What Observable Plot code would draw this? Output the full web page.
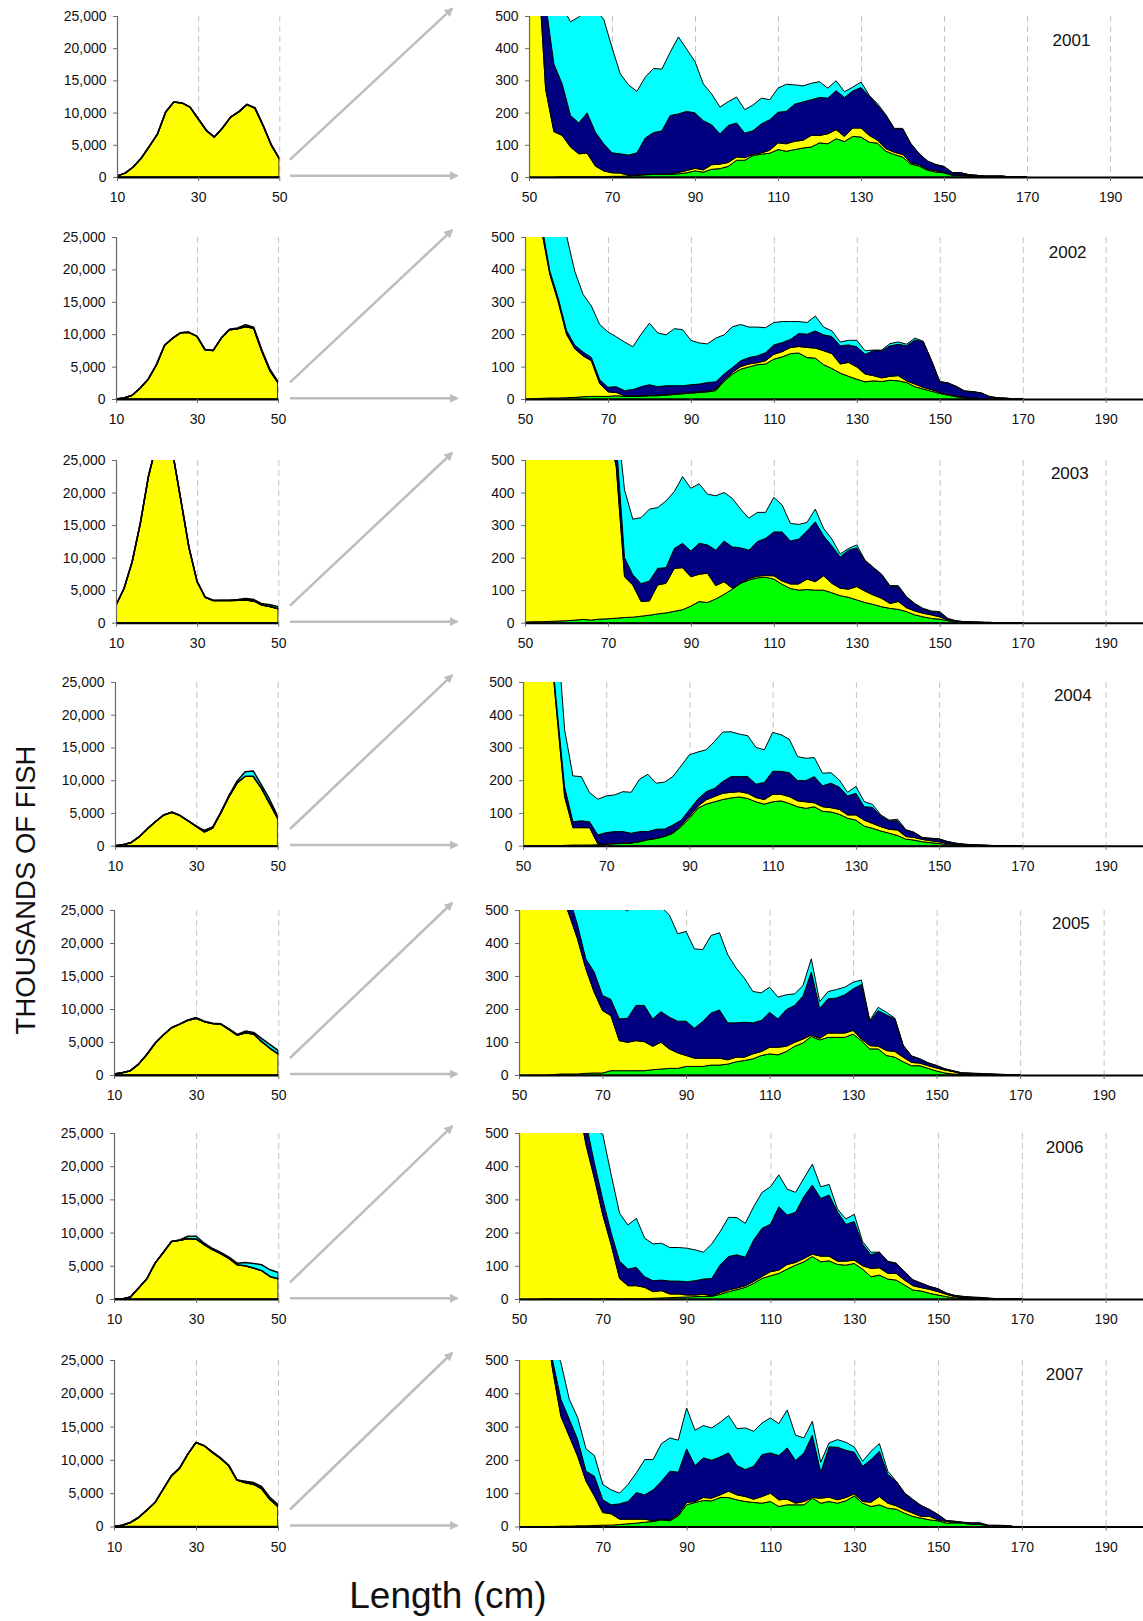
<!DOCTYPE html>
<html>
<head>
<meta charset="utf-8">
<script src="https://cdn.jsdelivr.net/npm/d3@7"></script>
<script src="https://cdn.jsdelivr.net/npm/@observablehq/plot@0.6"></script>
<style>
html, body { margin: 0; padding: 0; background: #fff; }
#page { position: relative; width: 1143px; height: 1621px; overflow: hidden; background: #fff; font-family: "Liberation Sans", Arial, sans-serif; }
#page svg.panel { position: absolute; }
</style>
</head>
<body>
<div id="page"></div>
<script>
// ---------------- DATA ----------------
const years = [2001, 2002, 2003, 2004, 2005, 2006, 2007];
const layers = ["green band", "yellow band", "navy band", "cyan band"];   // stack order, bottom to top
const layerColors = ["#00ff00", "#ffff00", "#000080", "#00ffff"];

const lengthSmall = [10,12,14,16,18,20,22,24,26,28,30,32,34,36,38,40,42,44,46,48,50];
const lengthLarge = [50,52,54,56,58,60,62,64,66,68,70,72,74,76,78,80,82,84,86,88,90,92,94,96,98,100,102,104,106,108,110,112,114,116,118,120,122,124,126,128,130,132,134,136,138,140,142,144,146,148,150,152,154,156,158,160,162,164,166,168,170];

const smallXTicks = [10, 30, 50];
const smallYTicks = [0, 5000, 10000, 15000, 20000, 25000];
const smallGrid = [30, 50];
const largeXTicks = [50, 70, 90, 110, 130, 150, 170, 190];
const largeYTicks = [0, 100, 200, 300, 400, 500];
const largeGrid = [70, 90, 110, 130, 150, 170, 190];

// Left panels (10-50 cm): cumulative top of yellow layer and of the whole stack (thousands of fish)
const small2001Yellow = [150,600,1550,2950,4800,6700,10100,11650,11500,10850,9050,7250,6200,7600,9300,10100,11230,10700,8000,5000,2850];
const small2001Total  = [150,600,1550,2950,4800,6700,10100,11650,11500,10850,9050,7250,6200,7600,9300,10150,11300,10780,8050,5050,2870];
const small2002Yellow = [0,150,570,1700,3100,5300,8300,9400,10240,10290,9670,7600,7500,9400,10700,10850,11200,10900,7400,4400,2550];
const small2002Total  = [0,150,570,1700,3100,5300,8300,9400,10240,10290,9670,7600,7500,9400,10750,10950,11470,11060,7600,4600,2700];
const small2003Yellow = [2700,5300,9400,15300,22500,27500,29000,26000,18800,11500,6300,3900,3400,3400,3400,3450,3500,3350,2700,2500,2150];
const small2003Total  = [2700,5300,9400,15300,22500,27500,29000,26000,18800,11500,6300,3900,3400,3450,3450,3550,3700,3550,2900,2750,2450];
const small2004Yellow = [0,150,500,1400,2600,3700,4700,5100,4600,3800,2950,2100,2700,5000,7500,9570,10600,10600,8800,6500,4200];
const small2004Total  = [0,150,500,1400,2600,3700,4700,5100,4600,3800,3000,2350,2850,5100,7650,9850,11300,11400,9300,7100,4500];
const small2005Yellow = [150,350,650,1650,3100,4800,6050,7150,7700,8300,8600,8080,7800,7700,6900,6050,6400,6200,5050,4050,3200];
const small2005Total  = [150,350,650,1650,3100,4800,6050,7150,7700,8350,8700,8150,7850,7750,7000,6150,6650,6450,5500,4600,3700];
const small2006Yellow = [0,0,300,1650,3050,5400,7000,8650,8850,9100,9050,8200,7430,6830,6120,5170,5020,4670,4270,3400,3060];
const small2006Total  = [0,0,300,1650,3050,5400,7000,8650,8900,9450,9450,8400,7600,7000,6300,5400,5500,5350,5150,4400,4000];
const small2007Yellow = [0,200,600,1350,2450,3600,5600,7600,8770,10870,12620,12120,11120,10220,9120,6970,6600,6350,5700,4100,3000];
const small2007Total  = [0,200,600,1350,2450,3600,5600,7600,8770,10870,12620,12150,11200,10300,9200,7000,6800,6600,6000,4400,3300];

// Right panels (50-170 cm): cumulative top of each stacked layer (thousands of fish)
const big2001Green  = [0,0,0,0,1,1,1,1,1,1,2,2,3,5,7,8,8,8,10,13,19,15,24,26,33,52,52,67,71,74,85,80,85,90,93,106,103,119,110,126,124,108,105,80,70,62,40,34,21,15,13,5,4,3,2,1,1,0,0,0,0];
const big2001Yellow = [2850,700,273,141,129,93,72,74,34,19,13,12,5,6,8,9,9,10,14,20,27,22,38,40,45,62,60,70,75,83,106,103,111,114,129,129,134,147,126,152,152,129,114,88,77,70,44,38,24,19,15,6,5,4,2,1,1,0,0,0,0];
const big2001Navy   = [2860,1000,540,351,289,191,168,199,139,103,75,72,68,75,121,138,143,191,196,204,199,175,162,134,160,168,136,144,165,178,201,204,226,233,240,247,245,268,247,267,278,251,222,191,150,150,103,72,49,38,32,13,13,7,5,3,3,3,0,0,0];
const big2001Cyan   = [2870,1100,800,600,530,482,497,520,520,490,402,320,286,266,310,337,335,387,435,397,358,289,258,217,234,248,209,224,245,240,276,288,286,283,291,296,276,299,265,279,295,253,227,193,151,151,104,73,50,39,33,14,13,7,5,3,3,3,0,0,0];

const big2002Green  = [0,1,2,3,3,4,5,7,8,8,8,10,8,8,8,10,10,12,14,16,18,20,22,26,54,77,92,99,106,108,123,130,140,142,128,126,106,94,80,70,61,53,56,54,58,56,51,38,31,24,17,12,7,3,2,1,0,0,0,0,0];
const big2002Yellow = [2550,900,520,384,300,200,155,133,118,48,22,20,10,10,10,12,12,14,16,18,20,22,24,30,58,82,100,108,112,118,138,146,159,162,159,157,149,140,108,113,99,77,72,65,70,72,56,46,36,29,20,14,9,5,2,1,0,0,0,0,0];
const big2002Navy   = [2600,950,540,395,312,212,166,145,128,60,36,38,26,29,38,44,38,41,41,41,44,46,51,53,77,97,118,128,133,143,167,174,184,202,200,210,198,193,164,167,161,138,149,149,164,169,164,182,177,118,53,49,38,24,22,18,7,3,2,0,0];
const big2002Cyan   = [2700,1300,900,700,560,505,394,323,287,230,207,192,176,161,200,234,204,198,217,214,181,173,170,188,198,223,230,222,222,220,236,239,239,239,236,256,222,210,176,181,181,149,151,151,171,176,169,188,178,119,54,50,39,25,23,19,8,4,3,0,0];

const big2003Green  = [2,3,3,4,5,6,8,10,8,11,12,14,16,17,20,23,27,30,35,40,51,65,62,73,87,103,121,131,138,140,134,118,105,100,102,100,100,92,83,78,70,62,56,49,44,41,34,24,18,13,11,6,3,2,1,1,0,0,0,0,0];
const big2003Yellow = [2150,1800,1500,1200,1000,900,800,700,650,600,600,480,141,116,65,67,116,121,167,169,141,149,152,114,126,106,122,135,143,145,144,128,119,119,134,126,144,121,106,103,111,97,85,75,59,65,46,36,29,24,18,8,4,2,1,1,0,0,0,0,0];
const big2003Navy   = [2200,1900,1600,1300,1100,1000,900,800,750,700,650,560,200,147,120,128,167,169,228,244,220,244,239,223,251,233,230,223,249,259,279,279,251,257,282,310,267,236,202,223,230,190,169,147,111,111,78,57,42,34,31,11,5,3,2,1,1,0,0,0,0];
const big2003Cyan   = [2450,2100,1800,1500,1300,1200,1100,1000,900,800,720,650,408,318,323,349,354,374,403,449,413,427,395,390,400,382,349,321,339,339,385,362,305,302,308,349,290,257,211,228,239,192,170,149,114,114,80,59,44,36,34,13,6,3,2,1,1,0,0,0,0];

const big2004Green  = [0,0,0,0,0,1,2,2,2,3,4,6,7,8,12,18,22,28,38,58,84,114,127,134,141,146,149,144,134,127,134,137,129,119,114,119,105,103,96,84,78,60,53,45,38,31,20,17,12,9,7,3,2,1,0,0,0,0,0,0,0];
const big2004Yellow = [4200,2500,1200,700,420,150,55,55,55,5,5,7,8,9,13,19,23,29,40,62,90,120,140,150,160,163,165,160,147,141,157,157,150,137,134,131,119,116,111,94,94,78,68,58,50,48,28,25,19,15,12,6,4,2,1,0,0,0,0,0,0];
const big2004Navy   = [4300,2600,1300,720,440,180,73,76,73,33,40,43,43,38,43,43,50,51,63,78,110,142,165,175,196,211,211,211,188,193,227,227,223,199,199,211,183,191,179,152,160,119,117,91,76,76,48,40,24,22,20,12,7,4,3,2,1,0,0,0,0];
const big2004Cyan   = [4500,2800,1500,1000,700,354,213,211,162,142,152,155,165,163,203,218,191,194,211,244,278,286,293,318,347,348,341,336,300,293,346,339,325,272,267,269,221,223,201,163,181,135,126,94,78,81,49,41,25,23,21,13,8,5,3,2,1,0,0,0,0];

const big2005Green  = [0,0,0,0,1,3,3,3,5,6,6,13,13,13,13,13,16,18,20,20,26,26,26,30,30,33,40,44,49,59,64,61,71,87,97,117,106,114,114,114,124,104,79,79,59,54,40,28,28,20,12,6,3,1,0,0,0,0,0,0,0];
const big2005Yellow = [3200,2000,1200,900,700,560,486,413,322,251,195,180,104,99,104,101,87,99,79,67,59,51,51,51,51,46,54,54,64,71,84,84,87,99,109,121,111,127,127,127,135,109,89,87,74,71,54,38,36,28,21,15,10,3,2,1,0,0,0,0,0];
const big2005Navy   = [3300,2100,1300,1000,800,650,540,455,352,312,241,229,170,172,211,211,170,192,175,163,163,142,162,188,197,158,158,160,158,165,190,170,198,211,239,312,202,231,233,243,261,274,162,195,182,170,89,57,48,36,28,18,12,6,5,4,3,2,1,0,0];
const big2005Cyan   = [3700,2500,1800,1400,1100,900,800,700,650,620,600,580,510,497,520,530,540,510,485,428,435,382,380,423,431,364,324,293,253,249,266,236,243,246,271,352,222,253,259,266,281,288,165,205,190,172,90,58,49,37,29,19,13,7,6,5,4,3,2,0,0];

const big2006Green  = [0,0,0,1,1,1,1,1,1,1,1,1,1,1,1,1,2,3,4,5,6,7,8,8,14,22,28,35,47,62,70,77,90,102,112,128,112,115,104,102,107,90,67,72,60,57,42,27,24,17,12,7,3,1,0,0,0,0,0,0,0];
const big2006Yellow = [3060,2200,1600,1200,1000,800,700,600,464,363,253,163,62,40,40,35,22,25,15,15,12,12,14,10,19,27,33,40,53,68,82,87,104,110,122,135,129,129,114,114,117,100,92,94,77,77,57,40,34,29,22,14,7,3,2,1,0,0,0,0,0];
const big2006Navy   = [3200,2300,1700,1300,1100,900,800,650,530,409,299,199,114,90,95,67,55,57,54,54,52,55,60,62,103,128,133,126,178,213,225,278,253,261,309,343,303,313,263,225,233,165,133,141,112,107,82,57,47,37,30,17,10,7,5,4,2,0,0,0,0];
const big2006Cyan   = [4000,3000,2200,1700,1300,1000,850,700,600,515,495,374,258,223,243,183,166,168,155,155,153,148,141,166,203,246,245,228,278,321,338,374,331,321,364,406,338,345,271,241,255,173,141,141,114,108,83,58,48,38,31,18,11,8,6,5,3,1,0,0,0];

const big2007Green  = [0,0,0,0,0,1,1,2,2,3,4,4,6,8,10,13,15,20,17,32,65,72,78,77,87,87,80,75,72,70,75,60,65,65,65,85,70,75,70,77,92,70,60,65,55,52,40,30,25,20,17,10,11,10,6,6,2,2,1,0,0];
const big2007Yellow = [3000,1800,1000,650,472,331,271,211,136,91,42,38,22,22,22,22,17,22,20,36,72,75,87,85,95,106,95,90,82,90,100,80,82,70,75,87,85,88,80,87,98,75,73,90,70,62,50,40,30,30,20,15,12,12,8,8,3,3,2,0,0];
const big2007Navy   = [3100,1900,1100,700,500,382,322,261,166,151,80,65,68,75,102,95,110,136,166,163,233,183,206,199,209,221,183,171,181,216,221,213,236,198,221,274,163,239,238,229,223,181,201,226,156,136,100,80,62,50,35,17,15,12,10,10,3,3,2,0,0];
const big2007Cyan   = [3300,2100,1300,800,560,492,382,327,233,213,126,110,100,126,161,201,201,249,266,259,356,289,303,296,313,333,294,296,286,311,326,309,350,274,266,316,193,251,261,253,239,196,226,249,166,136,101,81,63,51,36,18,16,13,11,11,4,4,3,0,0];

// ---------------- LAYOUT (page pixels) ----------------
const layout = [
  {yTop: 15.7,   y0: 176.7,  lx0: 117,   lx1: 279.3, rx50: 528.7, rx190: 1109.8, yearX: 1070.7, yearY: 39.3},
  {yTop: 237.3,  y0: 399.3,  lx0: 116.3, lx1: 278.3, rx50: 525.4, rx190: 1106.1, yearX: 1067.6, yearY: 252.2},
  {yTop: 460,    y0: 622.7,  lx0: 116,   lx1: 278.3, rx50: 525.4, rx190: 1106,   yearX: 1069.7, yearY: 473.3},
  {yTop: 682.3,  y0: 846,    lx0: 115,   lx1: 277.7, rx50: 523.4, rx190: 1106,   yearX: 1072.7, yearY: 695.5},
  {yTop: 910,    y0: 1075,   lx0: 114,   lx1: 278.3, rx50: 519.3, rx190: 1104,   yearX: 1070.7, yearY: 922.9},
  {yTop: 1133.3, y0: 1299.3, lx0: 114,   lx1: 278.3, rx50: 519.3, rx190: 1106,   yearX: 1064.5, yearY: 1147.2},
  {yTop: 1360,   y0: 1526.5, lx0: 114,   lx1: 278,   rx50: 519.3, rx190: 1106,   yearX: 1064.5, yearY: 1374.5}
];

// ---------------- BUILD ----------------
const smallTops = {
  2001: [small2001Yellow, small2001Total], 2002: [small2002Yellow, small2002Total],
  2003: [small2003Yellow, small2003Total], 2004: [small2004Yellow, small2004Total],
  2005: [small2005Yellow, small2005Total], 2006: [small2006Yellow, small2006Total],
  2007: [small2007Yellow, small2007Total]
};
const bigTops = {
  2001: [big2001Green, big2001Yellow, big2001Navy, big2001Cyan],
  2002: [big2002Green, big2002Yellow, big2002Navy, big2002Cyan],
  2003: [big2003Green, big2003Yellow, big2003Navy, big2003Cyan],
  2004: [big2004Green, big2004Yellow, big2004Navy, big2004Cyan],
  2005: [big2005Green, big2005Yellow, big2005Navy, big2005Cyan],
  2006: [big2006Green, big2006Yellow, big2006Navy, big2006Cyan],
  2007: [big2007Green, big2007Yellow, big2007Navy, big2007Cyan]
};

// convert cumulative tops into per-layer values for Plot's stack
function rowsFromTops(lengths, tops) {
  const out = [];
  lengths.forEach((x, i) => {
    let prev = 0;
    layers.forEach((layer, k) => {
      const t = tops[k][i];
      out.push({x, layer, value: Math.max(0, t - prev)});
      prev = Math.max(prev, t);
    });
  });
  return out;
}

const page = document.getElementById("page");
const FONT = '"Liberation Sans", Arial, sans-serif';
const M = {l: 64, r: 2, t: 8, b: 36};

function drawPanel(o) {
  const marks = [
    Plot.ruleX(o.grid, {stroke: "#c4c4c4", strokeWidth: 1, strokeDasharray: "6,4"}),
    Plot.areaY(o.rows, Plot.stackY({order: layers}, {
      x: "x", y: "value", z: "layer", fill: "layer",
      stroke: "#000", strokeWidth: o.strokeWidth, strokeLinejoin: "round", clip: true
    })),
    Plot.ruleX([o.xDomain[0]], {stroke: "#6a6a6a", strokeWidth: 1.2}),
    Plot.ruleY([o.yDomain[0]], {stroke: "#000", strokeWidth: 2}),
    Plot.axisY(o.yTicks, {tickSize: 4, tickPadding: 7, tickFormat: o.yFormat, stroke: "#6a6a6a", fill: "#111", label: null}),
    Plot.axisX(o.xTicks, {tickSize: 4, tickPadding: 11, tickFormat: d => String(d), stroke: "#6a6a6a", fill: "#111", label: null})
  ];
  if (o.year) {
    marks.push(Plot.text([o.year], {
      frameAnchor: "top-left", dx: o.yearDx, dy: o.yearDy, text: d => String(d),
      fontSize: 17, fill: "#111", textAnchor: "middle", lineAnchor: "middle"
    }));
  }
  const svg = Plot.plot({
    width: M.l + o.plotW + M.r,
    height: M.t + o.plotH + M.b,
    marginLeft: M.l, marginRight: M.r, marginTop: M.t, marginBottom: M.b,
    x: {domain: o.xDomain},
    y: {domain: o.yDomain},
    color: {type: "ordinal", domain: layers, range: layerColors},
    style: {fontFamily: FONT, fontSize: "14px", background: "transparent", overflow: "visible", color: "#111"},
    marks
  });
  svg.classList.add("panel");
  svg.style.left = (o.left - M.l) + "px";
  svg.style.top = (o.top - M.t) + "px";
  page.appendChild(svg);
}

years.forEach((year, r) => {
  const L = layout[r];
  const plotH = L.y0 - L.yTop;
  const [sy, st] = smallTops[year];
  const smallZero = sy.map(() => 0);
  drawPanel({
    rows: rowsFromTops(lengthSmall, [smallZero, sy, sy, st]),
    xDomain: [10, 50], yDomain: [0, 25000],
    xTicks: smallXTicks, yTicks: smallYTicks, grid: smallGrid,
    yFormat: d3.format(","),
    left: L.lx0, top: L.yTop, plotW: L.lx1 - L.lx0, plotH,
    strokeWidth: 1.5
  });
  drawPanel({
    rows: rowsFromTops(lengthLarge, bigTops[year]),
    xDomain: [50, 200], yDomain: [0, 500],
    xTicks: largeXTicks, yTicks: largeYTicks, grid: largeGrid,
    yFormat: d => String(d),
    left: L.rx50, top: L.yTop, plotW: (L.rx190 - L.rx50) * 150 / 140, plotH,
    strokeWidth: 1,
    year, yearDx: L.yearX - L.rx50, yearDy: L.yearY - L.yTop
  });
});

// ---------------- OVERLAY: connector arrows and axis titles ----------------
const overlay = d3.select(page).append("svg")
  .attr("width", 1143).attr("height", 1621)
  .style("position", "absolute").style("left", "0px").style("top", "0px")
  .style("pointer-events", "none");
overlay.append("defs").append("marker")
  .attr("id", "ah").attr("viewBox", "0 0 10 10").attr("refX", 8).attr("refY", 5)
  .attr("markerWidth", 3.6).attr("markerHeight", 3.6).attr("orient", "auto")
  .append("path").attr("d", "M0,0L10,5L0,10z").attr("fill", "#bdbdbd");

const arrowStartX = 290, arrowEndX = 452, hArrowEndX = 457;
layout.forEach(L => {
  overlay.append("line")
    .attr("x1", arrowStartX).attr("y1", L.y0 - 17)
    .attr("x2", arrowEndX).attr("y2", L.yTop - 7)
    .attr("stroke", "#bdbdbd").attr("stroke-width", 2.5).attr("marker-end", "url(#ah)");
  overlay.append("line")
    .attr("x1", arrowStartX).attr("y1", L.y0 - 1)
    .attr("x2", hArrowEndX).attr("y2", L.y0 - 1)
    .attr("stroke", "#bdbdbd").attr("stroke-width", 2.5).attr("marker-end", "url(#ah)");
});

overlay.append("text")
  .attr("transform", "translate(25,890) rotate(-90)")
  .attr("text-anchor", "middle").attr("dominant-baseline", "central")
  .attr("font-family", FONT).attr("font-size", 27.5).attr("fill", "#111")
  .text("THOUSANDS OF FISH");

overlay.append("text")
  .attr("x", 448).attr("y", 1608)
  .attr("text-anchor", "middle")
  .attr("font-family", FONT).attr("font-size", 37).attr("fill", "#111")
  .text("Length (cm)");
</script>
</body>
</html>
